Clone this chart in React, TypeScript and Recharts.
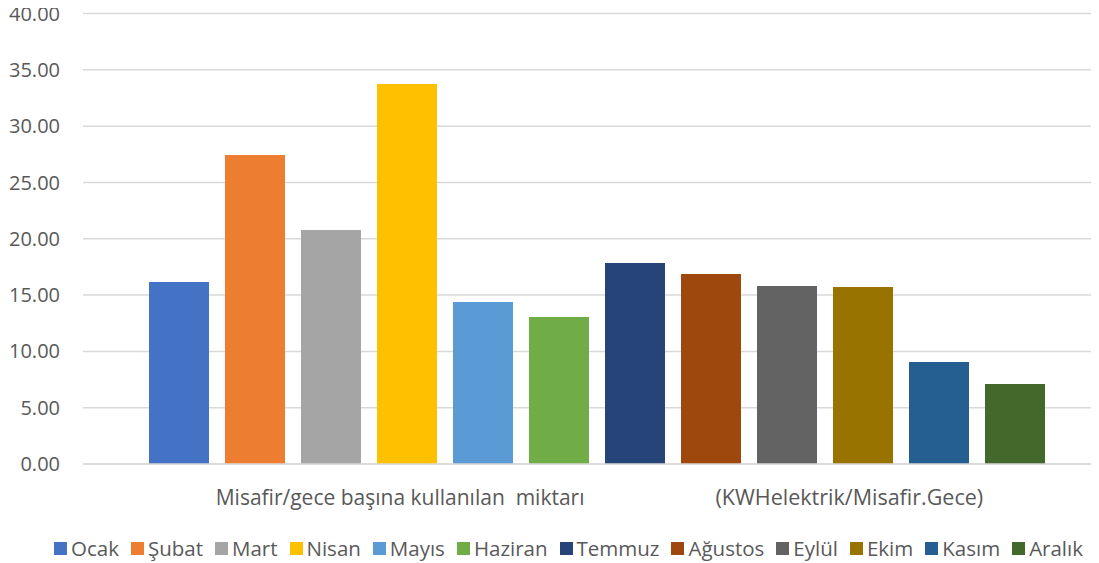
import { BarChart, Bar, XAxis, YAxis, CartesianGrid, Legend } from 'recharts';

const months = ['Ocak', 'Şubat', 'Mart', 'Nisan', 'Mayıs', 'Haziran', 'Temmuz', 'Ağustos', 'Eylül', 'Ekim', 'Kasım', 'Aralık'];
const values = [16.16, 27.44, 20.78, 33.75, 14.39, 13.05, 17.85, 16.87, 15.81, 15.72, 9.06, 7.1];
const colors = ['#4472C4', '#ED7D31', '#A5A5A5', '#FFC000', '#5B9BD5', '#70AD47', '#264478', '#9E480E', '#636363', '#997300', '#255E91', '#43682B'];
const categoryParts = ['Misafir/gece başına kullanılan  miktarı', '(KWHelektrik/Misafir.Gece)'];
const yTicks = [0, 5, 10, 15, 20, 25, 30, 35, 40];

const row: Record<string, string | number> = { name: categoryParts.join(' ') };
months.forEach((m, i) => {
  row[m] = values[i];
});
const data = [row];

const FONT = '"Open Sans", sans-serif';
const TEXT = '#595959';

function CategoryTick({ x, y }: any) {
  return (
    <g>
      <text x={x - 13} y={y + 39} textAnchor="end" fill={TEXT} fontSize={21} fontFamily={FONT} style={{ whiteSpace: 'pre' }}>
        {categoryParts[0]}
      </text>
      <text x={x + 118} y={y + 39} textAnchor="start" fill={TEXT} fontSize={21.5} fontFamily={FONT}>
        {categoryParts[1]}
      </text>
    </g>
  );
}

function MonthLegend() {
  return (
    <div style={{ display: 'flex', justifyContent: 'center', alignItems: 'center', height: 30, paddingLeft: 38, fontFamily: FONT, fontSize: 20.5, color: TEXT }}>
      {months.map((m, i) => (
        <span key={m} style={{ display: 'flex', alignItems: 'center', marginRight: i < months.length - 1 ? 12 : 0 }}>
          <span style={{ width: 13, height: 13, background: colors[i], marginRight: 4, display: 'inline-block' }} />
          {m}
        </span>
      ))}
    </div>
  );
}

export default function App() {
  return (
    <div style={{ margin: '-8px 0 0 -8px' }}>
      <BarChart
        width={1099}
        height={563}
        data={data}
        margin={{ top: 13.5, right: 0, bottom: 0, left: 0 }}
        barCategoryGap={0}
        barGap={16}
      >
        <CartesianGrid vertical={false} stroke="#D9D9D9" strokeWidth={1.5} />
        <XAxis
          dataKey="name"
          tick={<CategoryTick />}
          tickLine={false}
          axisLine={{ stroke: '#D9D9D9', strokeWidth: 1.5 }}
          tickSize={0}
          height={69}
          padding={{ left: 66, right: 53 }}
          interval={0}
        />
        <YAxis
          domain={[0, 40]}
          ticks={yTicks}
          tickFormatter={(v: number) => v.toFixed(2)}
          axisLine={false}
          tickLine={false}
          tickSize={0}
          tickMargin={23}
          width={83}
          tick={{ fill: TEXT, fontSize: 20, fontFamily: FONT }}
        />
        <Legend verticalAlign="bottom" height={30} content={<MonthLegend />} />
        {months.map((m, i) => (
          <Bar key={m} dataKey={m} fill={colors[i]} isAnimationActive={false} />
        ))}
      </BarChart>
    </div>
  );
}
